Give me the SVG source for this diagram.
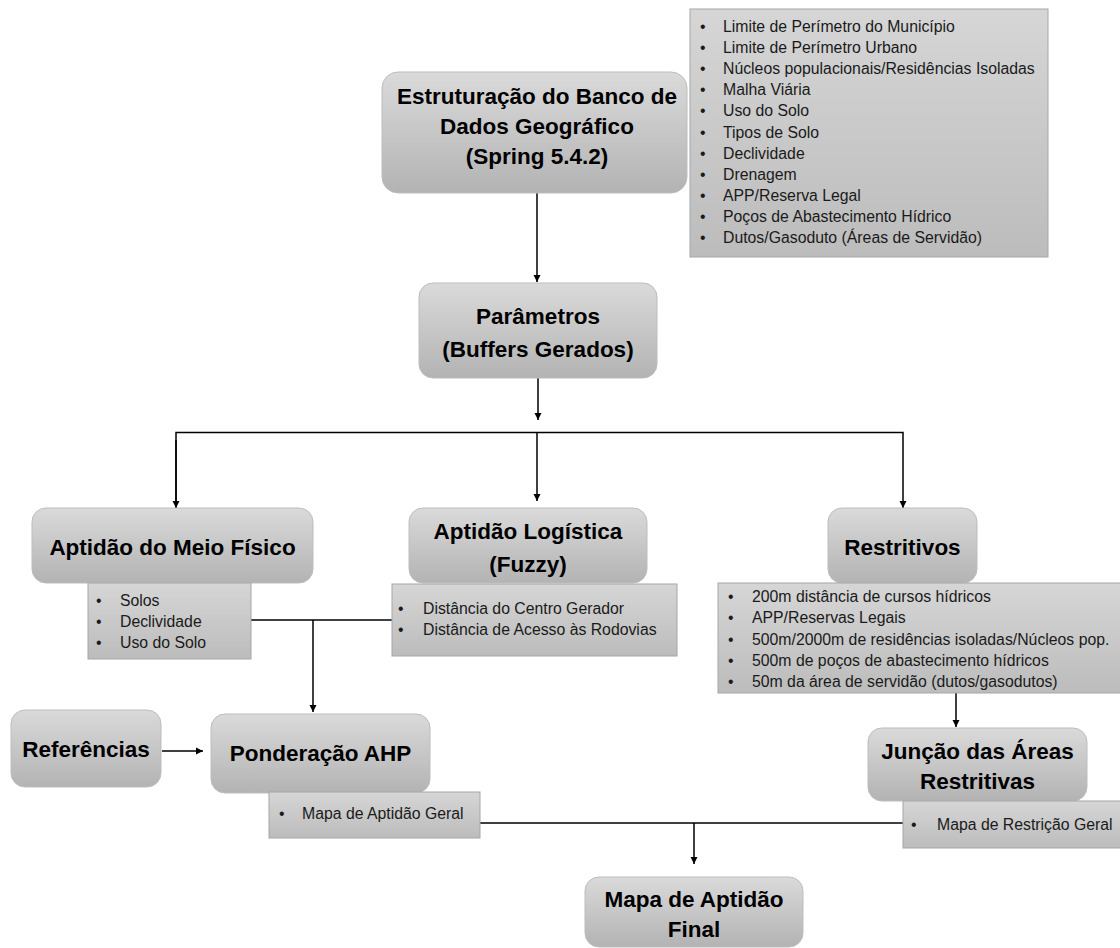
<svg xmlns="http://www.w3.org/2000/svg" width="1120" height="948" viewBox="0 0 1120 948">
<style>
.node{fill:url(#gn);stroke:#bdbdbd;stroke-width:1}
.list{fill:url(#gl);stroke:#a6a6a6;stroke-width:1}
.t{font-family:"Liberation Sans",Arial,sans-serif;font-weight:bold;font-size:22.5px;fill:#000;text-anchor:middle}
.l{font-family:"Liberation Sans",Arial,sans-serif;font-size:15.8px;fill:#1a1a1a}
.c{fill:none;stroke:#000;stroke-width:1.5}
</style>
<defs>
<linearGradient id="gn" x1="0" y1="0" x2="0" y2="1">
<stop offset="0" stop-color="#dadada"/>
<stop offset="1" stop-color="#b3b3b3"/>
</linearGradient>
<linearGradient id="gl" x1="0" y1="0" x2="0" y2="1">
<stop offset="0" stop-color="#d6d6d6"/>
<stop offset="1" stop-color="#bcbcbc"/>
</linearGradient>
<marker id="ah" viewBox="0 0 10 10" refX="10" refY="5" markerWidth="5" markerHeight="5" orient="auto" markerUnits="strokeWidth">
<path d="M0,0 L10,5 L0,10 z" fill="#000"/>
</marker>
</defs>
<rect width="1120" height="948" fill="#fff"/>

<g id="connectors">
<line class="c" x1="537" y1="193" x2="537" y2="282" marker-end="url(#ah)"/>
<line class="c" x1="538" y1="378" x2="538" y2="420" marker-end="url(#ah)"/>
<polyline class="c" points="176,508 176,432.5 903,432.5 903,508" marker-end="url(#ah)"/>
<line class="c" x1="176" y1="440" x2="176" y2="508" marker-end="url(#ah)"/>
<line class="c" x1="537" y1="432.5" x2="537" y2="501" marker-end="url(#ah)"/>
<line class="c" x1="251" y1="620" x2="392" y2="620"/>
<line class="c" x1="313" y1="620" x2="313" y2="712" marker-end="url(#ah)"/>
<line class="c" x1="162" y1="751" x2="203" y2="751" marker-end="url(#ah)"/>
<line class="c" x1="956" y1="693" x2="956" y2="727" marker-end="url(#ah)"/>
<line class="c" x1="480" y1="823" x2="903" y2="823"/>
<line class="c" x1="694" y1="823" x2="694" y2="864" marker-end="url(#ah)"/>
</g>

<g id="n-estruturacao">
<rect class="node" x="382" y="72" width="305" height="121" rx="16"/>
<text class="t" x="537" y="104">Estruturação do Banco de</text>
<text class="t" x="537" y="134">Dados Geográfico</text>
<text class="t" x="537" y="164">(Spring 5.4.2)</text>
</g>

<g id="n-dados">
<rect class="list" x="690" y="9" width="358" height="248"/>
<g class="l">
<text x="700" y="32">•</text><text x="723" y="32">Limite de Perímetro do Município</text>
<text x="700" y="53">•</text><text x="723" y="53">Limite de Perímetro Urbano</text>
<text x="700" y="74">•</text><text x="723" y="74">Núcleos populacionais/Residências Isoladas</text>
<text x="700" y="95">•</text><text x="723" y="95">Malha Viária</text>
<text x="700" y="116">•</text><text x="723" y="116">Uso do Solo</text>
<text x="700" y="137.5">•</text><text x="723" y="137.5">Tipos de Solo</text>
<text x="700" y="158.5">•</text><text x="723" y="158.5">Declividade</text>
<text x="700" y="179.5">•</text><text x="723" y="179.5">Drenagem</text>
<text x="700" y="200.5">•</text><text x="723" y="200.5">APP/Reserva Legal</text>
<text x="700" y="221.5">•</text><text x="723" y="221.5">Poços de Abastecimento Hídrico</text>
<text x="700" y="243">•</text><text x="723" y="243">Dutos/Gasoduto (Áreas de Servidão)</text>
</g>
</g>

<g id="n-parametros">
<rect class="node" x="419" y="283" width="238" height="95" rx="14"/>
<text class="t" x="538" y="324">Parâmetros</text>
<text class="t" x="538" y="357">(Buffers Gerados)</text>
</g>

<g id="n-meiofisico">
<rect class="node" x="32" y="508" width="281" height="75" rx="14"/>
<text class="t" x="172.5" y="555">Aptidão do Meio Físico</text>
<rect class="list" x="88" y="583" width="163" height="76"/>
<g class="l">
<text x="96" y="606">•</text><text x="120" y="606">Solos</text>
<text x="96" y="627">•</text><text x="120" y="627">Declividade</text>
<text x="96" y="648">•</text><text x="120" y="648">Uso do Solo</text>
</g>
</g>

<g id="n-logistica">
<rect class="node" x="409" y="508" width="238" height="75" rx="14"/>
<text class="t" x="528" y="539">Aptidão Logística</text>
<text class="t" x="528" y="572">(Fuzzy)</text>
<rect class="list" x="392" y="584" width="285" height="72"/>
<g class="l">
<text x="398" y="614">•</text><text x="423" y="614">Distância do Centro Gerador</text>
<text x="398" y="635">•</text><text x="423" y="635">Distância de Acesso às Rodovias</text>
</g>
</g>

<g id="n-restritivos">
<rect class="node" x="828" y="508" width="149" height="75" rx="14"/>
<text class="t" x="902.5" y="555">Restritivos</text>
<rect class="list" x="718" y="583" width="410" height="110"/>
<g class="l">
<text x="728" y="602">•</text><text x="752" y="602">200m distância de cursos hídricos</text>
<text x="728" y="623">•</text><text x="752" y="623">APP/Reservas Legais</text>
<text x="728" y="645">•</text><text x="752" y="645">500m/2000m de residências isoladas/Núcleos pop.</text>
<text x="728" y="666">•</text><text x="752" y="666">500m de poços de abastecimento hídricos</text>
<text x="728" y="687">•</text><text x="752" y="687">50m da área de servidão (dutos/gasodutos)</text>
</g>
</g>

<g id="n-referencias">
<rect class="node" x="11" y="710" width="150" height="77" rx="14"/>
<text class="t" x="86" y="757">Referências</text>
</g>

<g id="n-ahp">
<rect class="node" x="211" y="714" width="219" height="79" rx="14"/>
<text class="t" x="320.5" y="761">Ponderação AHP</text>
<rect class="list" x="269" y="792" width="211" height="46"/>
<g class="l">
<text x="279" y="819">•</text><text x="302" y="819">Mapa de Aptidão Geral</text>
</g>
</g>

<g id="n-juncao">
<rect class="node" x="868" y="728" width="219" height="73" rx="14"/>
<text class="t" x="977.5" y="759">Junção das Áreas</text>
<text class="t" x="977.5" y="789">Restritivas</text>
<rect class="list" x="903" y="801" width="225" height="47"/>
<g class="l">
<text x="911" y="830">•</text><text x="937" y="830">Mapa de Restrição Geral</text>
</g>
</g>

<g id="n-final">
<rect class="node" x="585" y="877" width="218" height="70" rx="14"/>
<text class="t" x="694" y="907">Mapa de Aptidão</text>
<text class="t" x="694" y="937">Final</text>
</g>
</svg>
